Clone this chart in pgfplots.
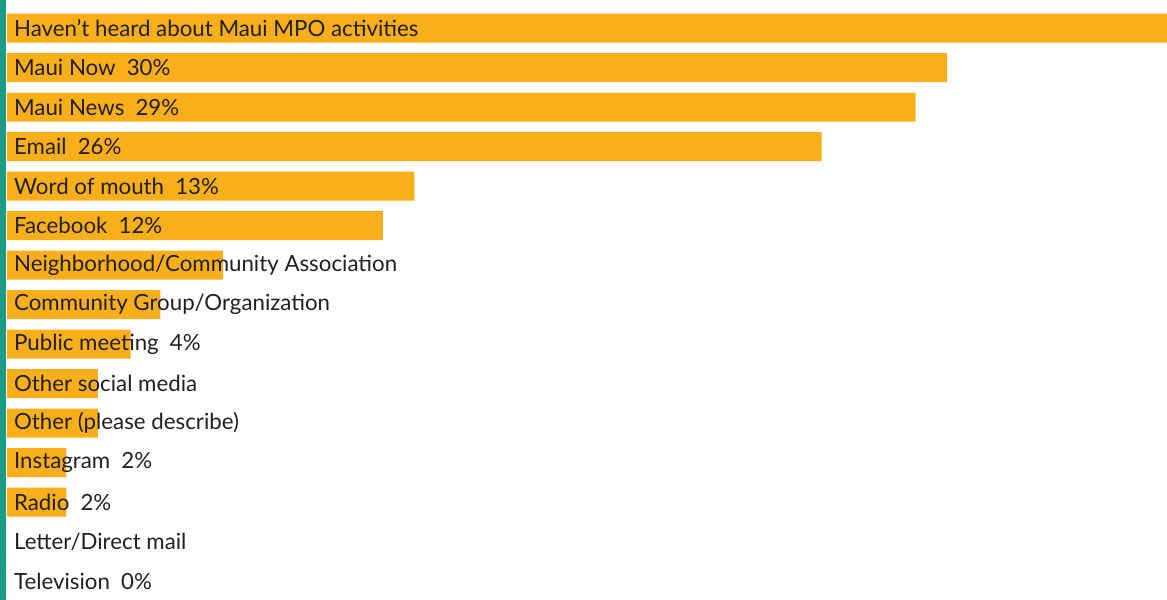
\documentclass[border=0pt]{standalone}
\usepackage{pgfplots}
\usepackage{pgfplotstable}
\pgfplotsset{compat=1.18}
\usepackage{fontspec}
\setmainfont{Lato}
\definecolor{baryellow}{HTML}{F9AF1A}
\definecolor{linegreen}{HTML}{1C9C86}
\definecolor{txt}{HTML}{231F20}
\pgfplotstableread[col sep=semicolon]{
y;val;lab
0;40;{Haven’t heard about Maui MPO activities}
1;30;{Maui Now\enspace 30\%}
2;29;{Maui News\enspace 29\%}
3;26;{Email\enspace 26\%}
4;13;{Word of mouth\enspace 13\%}
5;12;{Facebook\enspace 12\%}
6;6.9;{Neighborhood/Community Association}
7;4.9;{Community Group/Organization}
8;3.95;{Public meeting\enspace 4\%}
9;2.9;{Other social media}
10;2.9;{Other (please describe)}
11;1.9;{Instagram\enspace 2\%}
12;1.9;{Radio\enspace 2\%}
13;0;{Letter/Direct mail}
14;0;{Television\enspace 0\%}
}\datatable
\begin{document}
\begin{tikzpicture}
\begin{axis}[
  scale only axis,
  width=1167bp, height=598bp,
  xmin=-0.32, xmax=37.02,
  ymin=-0.711, ymax=14.467,
  y dir=reverse,
  hide axis,
  clip=true,
]
\addplot[xbar, bar width=29bp, fill=baryellow, draw=none] table[x=val, y=y] {\datatable};
\addplot[draw=none, mark=none,
  nodes near coords={\pgfplotspointmeta},
  point meta=explicit symbolic,
  nodes near coords style={anchor=west, font=\fontsize{22.3}{25}\selectfont, text=txt, inner sep=0pt, xshift=7bp},
] table[x expr=0, y=y, meta=lab] {\datatable};
\fill[linegreen] (axis cs:-0.22,-0.711) rectangle (axis cs:-0.03,14.467);
\end{axis}
\end{tikzpicture}
\end{document}
